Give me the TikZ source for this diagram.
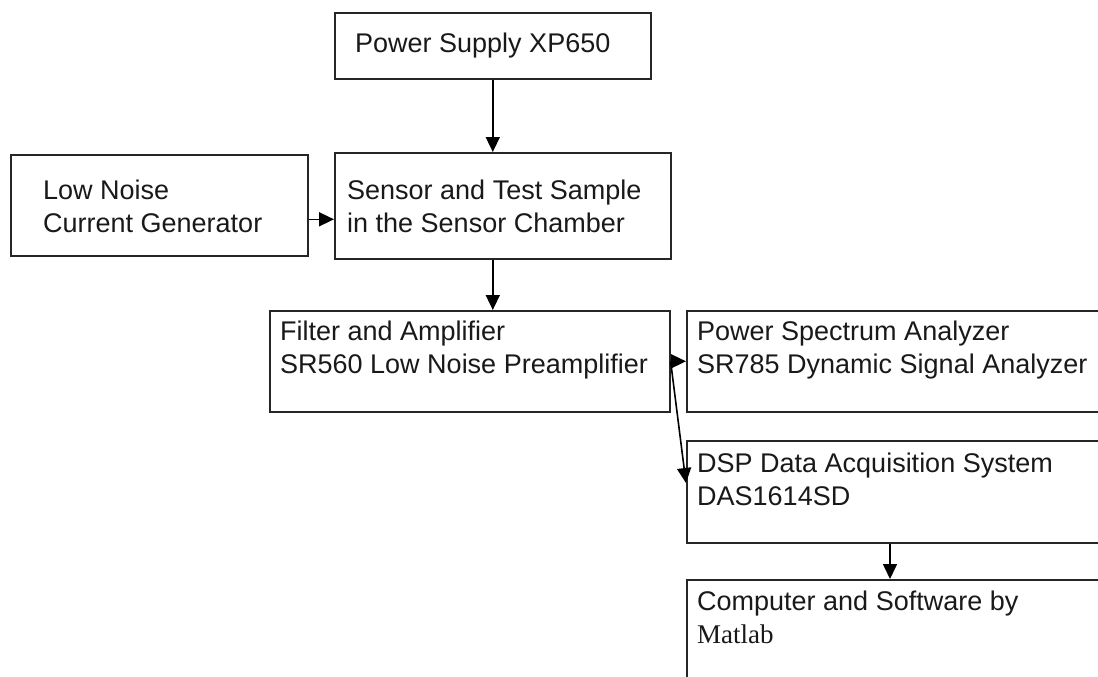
\documentclass[tikz,border=0pt]{standalone}
\usepackage{fontspec}
\setmainfont{Liberation Sans}
\newfontfamily\serifpart{Liberation Serif}
\usetikzlibrary{arrows.meta}
\usetikzlibrary{calc}
\begin{document}
\begin{tikzpicture}[x=1pt,y=-1pt,
  blk/.style={draw=black!85, line width=1.6pt, rectangle, inner sep=0pt, anchor=north west},
  txt/.style={anchor=base west, inner sep=0pt, align=left, text=black!90,
    font=\fontsize{27}{33}\selectfont},
  arr/.style={draw=black, line width=1.6pt, -{Triangle[length=15pt,width=14pt]}}]
\useasboundingbox (0,0) rectangle (1098,677);
\clip (0,0) rectangle (1098,677);
% boxes
\node[blk, minimum width=316pt, minimum height=66pt] (power) at (334,12) {};
\node[blk, minimum width=297pt, minimum height=101pt] (gen) at (10,154) {};
\node[blk, minimum width=336pt, minimum height=106pt] (sensor) at (334,152) {};
\node[blk, minimum width=400pt, minimum height=101pt] (filter) at (269,310) {};
\node[blk, minimum width=430pt, minimum height=101pt] (spectrum) at (686,310) {};
\node[blk, minimum width=430pt, minimum height=102pt] (dsp) at (686,440) {};
\node[blk, minimum width=430pt, minimum height=110pt] (comp) at (686,579) {};
% texts (base = last line)
\node[txt] (powertxt) at ($(power.north west)+(21,41)$) {Power Supply XP650};
\node[txt] (gentxt) at ($(gen.north west)+(33,78)$) {Low Noise\\Current Generator};
\node[txt] (sensortxt) at ($(sensor.north west)+(13,80)$) {Sensor and Test Sample\\in the Sensor Chamber};
\node[txt] (filtertxt) at ($(filter.north west)+(11,63)$) {Filter and Amplifier\\SR560 Low Noise Preamplifier};
\node[txt] (spectrumtxt) at ($(spectrum.north west)+(11,63)$) {Power Spectrum Analyzer\\SR785 Dynamic Signal Analyzer};
\node[txt] (dsptxt) at ($(dsp.north west)+(11,65)$) {DSP Data Acquisition System\\DAS1614SD};
\node[txt] (comptxt) at ($(comp.north west)+(11,64)$) {Computer and Software by\\{\serifpart Matlab}};
% connectors
\coordinate (genout) at ($(gen.east)+(0,14)$);
\coordinate (dspin) at ($(dsp.north west)+(0,43)$);
\coordinate (dspout) at ($(dsp.south west)+(204,0)$);
\draw[arr] (power.south) -- (power.south |- sensor.north);
\draw[arr] (genout) -- (genout -| sensor.west);
\draw[arr] (power.south |- sensor.south) -- (power.south |- filter.north);
\draw[arr] (filter.east) -- (filter.east -| spectrum.west);
\draw[arr] (filter.east) -- (dspin);
\draw[arr] (dspout) -- (dspout |- comp.north);
\end{tikzpicture}
\end{document}
